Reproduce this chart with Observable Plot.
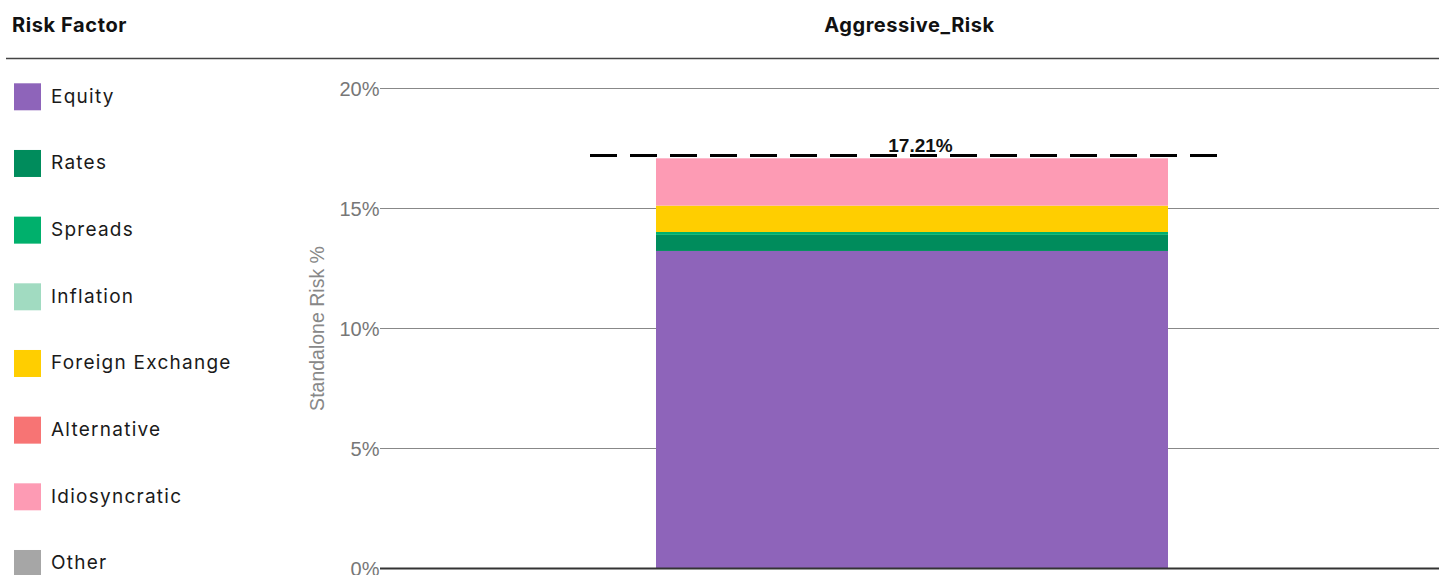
<!DOCTYPE html>
<html><head><meta charset="utf-8">
<script src="https://cdn.jsdelivr.net/npm/d3@7"></script>
<script src="https://cdn.jsdelivr.net/npm/@observablehq/plot@0.6"></script>
<style>
html,body{margin:0;padding:0;background:#fff;width:1439px;height:575px;overflow:hidden;}
#header{position:absolute;left:0;top:0;}
#chart{position:absolute;left:300px;top:60px;}
</style></head><body>
<svg id="header" width="1439" height="575"></svg>
<div id="chart"></div>
<script>
const portfolio = "Aggressive_Risk";
const legendTitle = "Risk Factor";
const yLabel = "Standalone Risk %";
const factors = ["Equity", "Rates", "Spreads", "Inflation", "Foreign Exchange", "Alternative", "Idiosyncratic", "Other"];
const values = [13.21, 0.67, 0.12, 0, 1.10, 0, 1.97, 0];
const colors = ["#8e64ba", "#008c5c", "#00b06c", "#a1dbc1", "#ffce00", "#f77474", "#fd9bb4", "#a6a6a6"];
const totalRisk = 17.21;
const yTicks = [0, 5, 10, 15, 20];

const rows = factors.map((f, i) => ({factor: f, value: values[i], portfolio}));

// Header + legend (real text)
const hdr = d3.select("#header");
const uiFont = "Inter, 'Noto Sans', sans-serif";
hdr.append("text").attr("x", 12).attr("y", 32).attr("font-family", uiFont).attr("letter-spacing", 0.6)
  .attr("font-weight", 700).attr("font-size", 20).attr("fill", "#111").text(legendTitle);
hdr.append("text").attr("x", 909.5).attr("y", 32).attr("text-anchor", "middle").attr("font-family", uiFont)
  .attr("letter-spacing", 0.55).attr("font-weight", 700).attr("font-size", 20).attr("fill", "#111").text(portfolio);
hdr.append("line").attr("x1", 6).attr("x2", 1439).attr("y1", 58.5).attr("y2", 58.5)
  .attr("stroke", "#444").attr("stroke-width", 1.5);
const item = hdr.selectAll("g.item").data(factors).join("g").attr("class", "item")
  .attr("transform", (d, i) => `translate(14,${83.3 + i * 66.67})`);
item.append("rect").attr("width", 27).attr("height", 27).attr("fill", (d, i) => colors[i]);
item.append("text").attr("x", 37).attr("y", 19.5).attr("font-family", uiFont).attr("font-size", 19)
  .attr("letter-spacing", 1.25).attr("fill", "#1a1a1a").text(d => d);

const chart = Plot.plot({
  width: 1139,
  height: 515,
  marginTop: 28,
  marginBottom: 7,
  marginLeft: 80,
  marginRight: 0,
  style: {fontFamily: "'Liberation Sans', Arial, sans-serif", fontSize: "20px", color: "#777", background: "transparent"},
  x: {domain: [portfolio], padding: 0.3474, align: 0.5054, axis: null},
  y: {domain: [0, 20], axis: null},
  color: {domain: factors, range: colors},
  marks: [
    Plot.axisY({ticks: yTicks, tickFormat: d => d + "%", tickSize: 0, tickPadding: 1, dy: 1.5, label: null, fill: "#777"}),
    Plot.gridY(yTicks.filter(d => d > 0), {stroke: "#888", strokeOpacity: 1, strokeWidth: 1}),
    Plot.barY(rows, {x: "portfolio", y: "value", fill: "factor"}),
    Plot.ruleY([0], {stroke: "#333", strokeWidth: 2}),
    Plot.tickY([totalRisk], {x: () => portfolio, y: d => d, stroke: "#000", strokeWidth: 3, strokeDasharray: "27,13", insetLeft: -66, insetRight: -55}),
    Plot.text([totalRisk], {x: () => portfolio, y: d => d, text: d => d.toFixed(2) + "%", dy: -10, dx: 8, fontWeight: "bold", fontSize: 19, fill: "#111"}),
    Plot.text([yLabel], {frameAnchor: "left", rotate: -90, dx: -62.5, textAnchor: "middle", text: d => d, fontSize: 19.5, fill: "#888"})
  ]
});
document.getElementById("chart").appendChild(chart);
</script>
</body></html>
